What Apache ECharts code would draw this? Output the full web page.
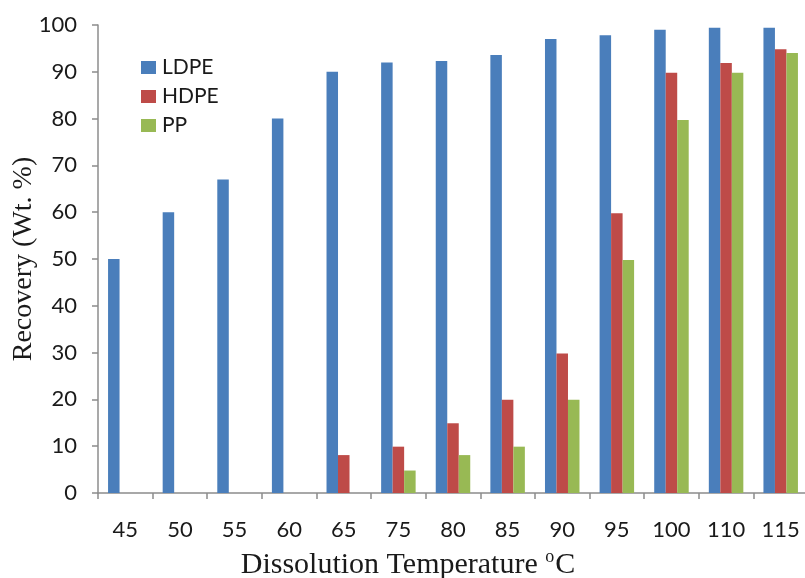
<!DOCTYPE html>
<html>
<head>
<meta charset="utf-8">
<script src="https://cdn.jsdelivr.net/npm/echarts@6/dist/echarts.min.js"></script>
<style>
html,body{margin:0;padding:0;background:#fff;}
#chart{width:805px;height:578px;}
</style>
</head>
<body>
<div id="chart"></div>
<script>
const categories = ['45','50','55','60','65','75','80','85','90','95','100','110','115'];
const ldpe = [50, 60, 67, 80, 90, 92, 92.3, 93.6, 97, 97.8, 99, 99.4, 99.4];
const hdpe = [null, null, null, null, 8.1, 9.9, 14.9, 19.9, 29.8, 59.8, 89.8, 91.9, 94.8];
const pp   = [null, null, null, null, null, 4.8, 8.1, 9.9, 19.9, 49.8, 79.7, 89.8, 94];
const yTicks = [0,10,20,30,40,50,60,70,80,90,100];

const chart = echarts.init(document.getElementById('chart'), null, {renderer:'canvas'});
const labelFont = 'Lato';
const serif = '"Liberation Serif", "DejaVu Serif", serif';
chart.setOption({
  animation:false,
  backgroundColor:'#fff',
  grid:{left:98, right:-3, top:25, bottom:85, containLabel:false, outerBoundsMode:'none'},
  legend:{
    orient:'vertical', left:136, top:52,
    itemWidth:15, itemHeight:13, itemGap:8,
    icon:'rect',
    textStyle:{fontFamily:labelFont, fontSize:21, color:'#1a1a1a', padding:[0,0,0,1]},
    data:['LDPE','HDPE','PP']
  },
  xAxis:{
    type:'category', data:categories,
    axisLine:{lineStyle:{color:'#8c8c8c', width:1.5}},
    axisTick:{show:true, length:6, lineStyle:{color:'#8c8c8c', width:1.5}},
    axisLabel:{fontFamily:labelFont, fontSize:22, color:'#1a1a1a', margin:26},
    name:'Dissolution Temperature {sup|o}C',
    nameLocation:'middle', nameGap:55, nameMoveOverlap:false,
    nameTextStyle:{fontFamily:serif, fontSize:30, color:'#1a1a1a', padding:[0,90,0,0],
      rich:{sup:{fontFamily:serif, fontSize:18, color:'#1a1a1a', verticalAlign:'top', padding:[0,1,16,0]}}}
  },
  yAxis:{
    type:'value', min:0, max:100, interval:10,
    splitLine:{show:false},
    axisLine:{show:true, lineStyle:{color:'#8c8c8c', width:1.5}},
    axisTick:{show:true, length:6, lineStyle:{color:'#8c8c8c', width:1.5}},
    axisLabel:{fontFamily:labelFont, fontSize:22, color:'#1a1a1a', margin:21,
      formatter:function(v){return yTicks.indexOf(v)>=0?String(v):'';}},
    name:'Recovery (Wt. %)',
    nameLocation:'middle', nameRotate:90, nameGap:60, nameMoveOverlap:false,
    nameTextStyle:{fontFamily:serif, fontSize:28, color:'#1a1a1a'}
  },
  series:[
    {name:'LDPE', type:'bar', data:ldpe, barWidth:11.5, barGap:'0%', itemStyle:{color:'#4a7ebb'}},
    {name:'HDPE', type:'bar', data:hdpe, barWidth:11.5, barGap:'0%', itemStyle:{color:'#be4b48'}},
    {name:'PP',   type:'bar', data:pp,   barWidth:11.5, barGap:'0%', itemStyle:{color:'#98b954'}}
  ]
});
</script>
</body>
</html>
